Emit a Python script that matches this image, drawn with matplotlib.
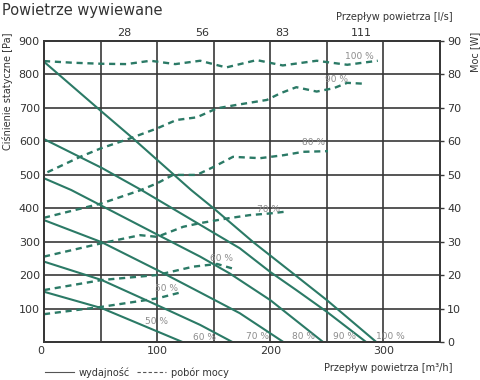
"""
Powietrze wywiewane - fan curves (pressure + power consumption)
"""

import matplotlib
matplotlib.use("Agg")
import matplotlib.pyplot as plt
from matplotlib.lines import Line2D

# pressure curves [Pa] vs airflow [m3/h], one per fan speed
speeds = ["50 %", "60 %", "70 %", "80 %", "90 %", "100 %"]

q50 = [0, 51, 123]
p50 = [151, 102, 0]
q60 = [0, 51, 100, 138, 167]
p60 = [241, 186, 111, 52, 0]
q70 = [0, 51, 100, 138, 173, 212]
p70 = [365, 299, 216, 149, 87, 0]
q80 = [0, 24, 100, 138, 164, 200, 247]
p80 = [490, 455, 322, 256, 206, 126, 0]
q90 = [0, 51, 86, 138, 173, 200, 223, 250, 285]
p90 = [607, 521, 455, 351, 281, 210, 156, 91, 0]
q100 = [0, 51, 78, 130, 150, 185, 223, 250, 294]
p100 = [838, 689, 611, 455, 400, 299, 198, 126, 0]

# power curves [W] vs airflow [m3/h]
wq50 = [0, 51, 100, 123]
w50 = [8.4, 10.6, 13.1, 15.1]
wq60 = [0, 51, 100, 132, 153, 167]
w60 = [15.6, 18.6, 20.1, 22.6, 23.4, 22.0]
wq70 = [0, 51, 85, 100, 123, 138, 162, 182, 200, 213]
w70 = [25.6, 29.6, 32.0, 31.5, 34.5, 35.6, 37.0, 38.0, 38.5, 39.0]
wq80 = [0, 51, 85, 100, 114, 135, 150, 167, 191, 212, 229, 251]
w80 = [37.2, 41.5, 45.4, 47.5, 50.0, 50.0, 52.4, 55.4, 55.0, 55.9, 56.9, 57.1]
wq90 = [3, 32, 50, 76, 100, 117, 135, 153, 170, 197, 209, 223, 241, 256, 268, 285]
w90 = [50.8, 55.4, 57.9, 60.9, 63.9, 66.4, 67.2, 69.9, 70.9, 72.4, 74.4, 76.2,
       74.9, 75.9, 77.5, 77.2]
wq100 = [0, 26, 51, 73, 94, 116, 138, 161, 188, 211, 241, 268, 295]
w100 = [84.0, 83.5, 83.2, 83.1, 84.1, 83.1, 84.1, 82.1, 84.3, 82.7, 84.1, 82.9, 84.1]

# top axis (l/s) labels
ls_labels = ["28", "56", "83", "111"]
ls_pos = [70.7, 139.6, 210.4, 280.2]

GREEN = "#2b7a66"
GRID = "#383838"
TXT = "#333333"
LBL = "#8c8c8c"


def make_plot():
    fig = plt.figure(figsize=(4.8, 3.8), dpi=100)
    ax = fig.add_axes([44 / 480, 1 - 342.3 / 380, 396 / 480, 301.3 / 380])
    ax2 = ax.twinx()
    ax3 = ax.twiny()

    pressure = [(q50, p50), (q60, p60), (q70, p70), (q80, p80), (q90, p90), (q100, p100)]
    power = [(wq50, w50), (wq60, w60), (wq70, w70), (wq80, w80), (wq90, w90), (wq100, w100)]

    for q, p in pressure:
        ax.plot(q, p, color=GREEN, lw=1.5, solid_capstyle="butt")
    for q, w in power:
        ax2.plot(q, w, color=GREEN, lw=1.7, dashes=(2.6, 2.0))

    # speed labels next to the curves
    p_lab = [(99, 63), (142, 14), (189, 17), (229, 16), (266, 16), (306, 16)]
    w_lab = [(108.5, 16.1), (157, 24.9), (198, 39.8), (237.8, 59.6), (258.7, 78.6), (278.4, 85.5)]
    for s, (x, y) in zip(speeds, p_lab):
        ax.text(x, y, s, color=LBL, fontsize=6.5, ha="center", va="center")
    for s, (x, y) in zip(speeds, w_lab):
        ax2.text(x, y, s, color=LBL, fontsize=6.5, ha="center", va="center")

    # axes limits / ticks
    ax.set_xlim(0, 350)
    ax.set_ylim(0, 900)
    ax2.set_ylim(0, 90)
    ax3.set_xlim(0, 350)

    ax.set_xticks([0, 100, 200, 300])
    ax.set_xticks(range(50, 350, 50), minor=True)
    ax.set_yticks(range(100, 1000, 100))
    ax.set_yticks([0], minor=True)
    ax.grid(True, which="both", color=GRID, lw=1.2)
    ax.set_axisbelow(True)
    ax.tick_params(which="both", length=0, labelsize=8, colors=TXT, pad=3)
    ax.get_xticklabels()[0].set_horizontalalignment("right")

    ax2.set_yticks(range(0, 100, 10))
    ax2.tick_params(length=3, width=1, color=GRID, labelsize=8, labelcolor=TXT, pad=2)

    ax3.set_xticks(ls_pos)
    ax3.set_xticklabels(ls_labels)
    ax3.tick_params(length=0, labelsize=8, colors=TXT, pad=2)

    for a in (ax, ax2, ax3):
        for sp in a.spines.values():
            sp.set_color(GRID)
            sp.set_linewidth(1.2)

    # axis titles
    ax.set_ylabel("Ciśnienie statyczne [Pa]", fontsize=7, color=TXT)
    ax.yaxis.set_label_coords(-0.078, 0.834)
    ax2.set_ylabel("Moc [W]", fontsize=7, color=TXT, rotation=90)
    ax2.yaxis.set_label_coords(1.076, 0.963)
    fig.text(453 / 480, 1 - 17 / 380, "Przepływ powietrza [l/s]", fontsize=7,
             color=TXT, ha="right", va="center")
    fig.text(453 / 480, 1 - 368 / 380, "Przepływ powietrza [m³/h]", fontsize=7,
             color=TXT, ha="right", va="center")
    fig.text(2 / 480, 1 - 11 / 380, "Powietrze wywiewane", fontsize=10.5,
             color=TXT, ha="left", va="center")

    # legend at the bottom
    handles = [Line2D([], [], color="#555555", lw=0.8),
               Line2D([], [], color="#555555", lw=0.8, dashes=(3, 2))]
    fig.legend(handles, ["wydajność", "pobór mocy"], loc="center left",
               bbox_to_anchor=(36 / 480, 1 - 372 / 380), ncol=2, frameon=False,
               fontsize=7, handlelength=3.0, handletextpad=0.5, columnspacing=0.7,
               labelcolor=TXT)

    fig.savefig("out.png", dpi=100)


if __name__ == "__main__":
    make_plot()
